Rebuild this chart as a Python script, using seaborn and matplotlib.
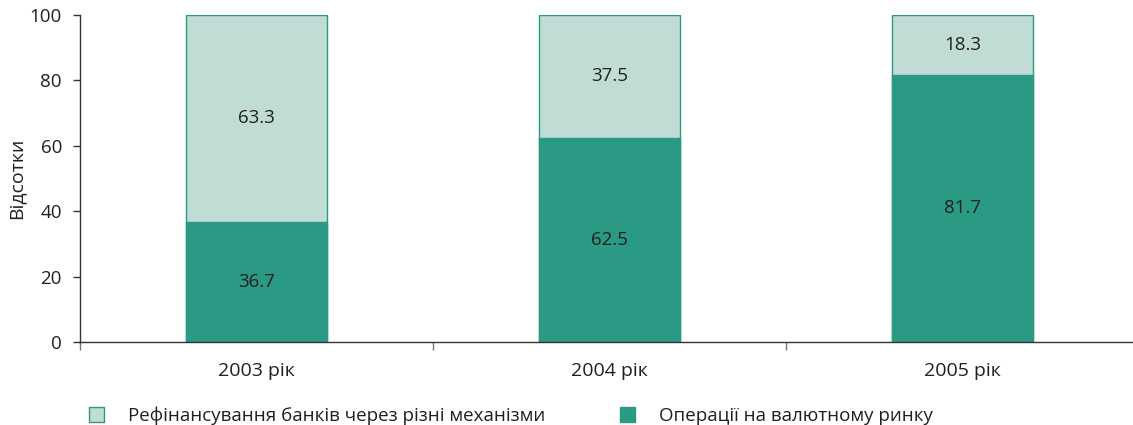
import matplotlib
matplotlib.use("Agg")
import matplotlib.pyplot as plt
from matplotlib.patches import Patch
import seaborn as sns
import pandas as pd

years = ["2003 рік", "2004 рік", "2005 рік"]
fx_market = [36.7, 62.5, 81.7]
refinancing = [63.3, 37.5, 18.3]
series_names = ["Рефінансування банків через різні механізми",
                "Операції на валютному ринку"]
y_ticks = [0, 20, 40, 60, 80, 100]

dark = "#2a9a84"
light = "#c0dcd4"
text_col = "#231f20"

sns.set_theme(style="white")
plt.rcParams["font.family"] = ["Open Sans", "DejaVu Sans"]
plt.rcParams["text.color"] = text_col
plt.rcParams["axes.labelcolor"] = text_col
plt.rcParams["xtick.color"] = text_col
plt.rcParams["ytick.color"] = text_col

df = pd.DataFrame({
    "year": years,
    "fx": fx_market,
    "refi": refinancing,
})
df["total"] = df["fx"] + df["refi"]

fig = plt.figure(figsize=(11.33, 4.25), dpi=100)
ax = fig.add_axes([0.0706, 0.195, 0.9346, 0.77])

# full-height bar first, lower segment drawn over it
sns.barplot(data=df, x="year", y="total", color=light, width=0.4,
            edgecolor=dark, linewidth=1.0, saturation=1, ax=ax)
sns.barplot(data=df, x="year", y="fx", color=dark, width=0.4,
            edgecolor=dark, linewidth=1.0, saturation=1, ax=ax)

fs = 13.5
for i, row in df.iterrows():
    ax.text(i, row["fx"] / 2, f"{row['fx']:.1f}", ha="center", va="center",
            fontsize=fs, color=text_col)
    ax.text(i, row["fx"] + row["refi"] / 2, f"{row['refi']:.1f}",
            ha="center", va="center", fontsize=fs, color=text_col)

ax.set_xlim(-0.5, 2.5)
ax.set_ylim(0, 100)
ax.set_yticks(y_ticks)
ax.set_xlabel("")
ax.set_ylabel("Відсотки", fontsize=14, labelpad=3)
ax.tick_params(axis="y", labelsize=fs, length=5, width=1, direction="out",
               left=True, pad=8, color="#333333")
ax.tick_params(axis="x", labelsize=14, length=0, pad=14)
ax.set_xticks([-0.5, 0.5, 1.5, 2.5], minor=True)
ax.tick_params(axis="x", which="minor", length=6, width=1, bottom=True,
               direction="out", color="#777777")

sns.despine(ax=ax, top=True, right=True)
for side in ("left", "bottom"):
    ax.spines[side].set_color("#333333")
    ax.spines[side].set_linewidth(1.0)

handles = [
    Patch(facecolor=light, edgecolor=dark, linewidth=1.0),
    Patch(facecolor=dark, edgecolor=dark, linewidth=1.0),
]
fig.legend(handles, series_names, loc="lower left",
           bbox_to_anchor=(0.064, -0.04), ncol=2, frameon=False,
           fontsize=fs, handlelength=0.8, handleheight=0.8,
           handletextpad=1.25, columnspacing=4.0)

fig.savefig("out.png", dpi=100)
